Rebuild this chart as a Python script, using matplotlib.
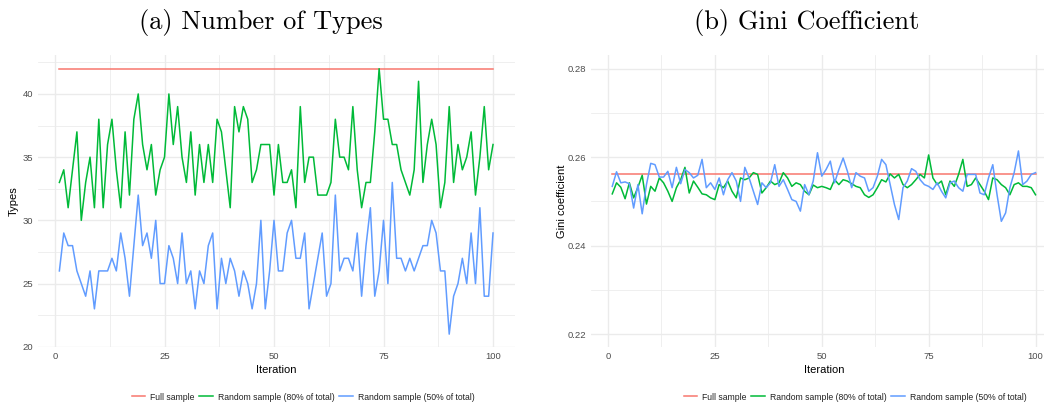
import matplotlib
matplotlib.use("Agg")
import matplotlib.pyplot as plt
from matplotlib.lines import Line2D
import numpy as np

iterations = list(range(1, 101))

types_full = [42] * 100
types_80 = [33, 34, 31, 34, 37, 30, 33, 35, 31, 38, 31, 36, 38, 34, 31, 37, 32, 38, 40, 36,
            34, 36, 32, 34, 35, 40, 36, 39, 35, 33, 37, 32, 36, 33, 36, 33, 38, 37, 34, 31,
            39, 37, 39, 38, 33, 34, 36, 36, 36, 32, 36, 33, 33, 34, 31, 39, 33, 35, 35, 32,
            32, 32, 33, 38, 35, 35, 34, 39, 34, 31, 33, 33, 37, 42, 38, 38, 36, 36, 34, 33,
            32, 34, 41, 33, 36, 38, 36, 31, 33, 39, 33, 36, 34, 35, 37, 32, 35, 39, 34, 36]
types_50 = [26, 29, 28, 28, 26, 25, 24, 26, 23, 26, 26, 26, 27, 26, 29, 27, 24, 28, 32, 28,
            29, 27, 30, 25, 25, 28, 27, 25, 29, 25, 26, 23, 26, 25, 28, 29, 23, 27, 25, 27,
            26, 24, 26, 25, 23, 25, 30, 23, 26, 30, 26, 26, 29, 30, 27, 27, 29, 23, 25, 27,
            29, 24, 25, 32, 26, 27, 27, 26, 29, 24, 28, 31, 24, 26, 30, 25, 33, 27, 27, 26,
            27, 26, 27, 28, 28, 30, 29, 26, 26, 21, 24, 25, 27, 25, 29, 25, 31, 24, 24, 29]

gini_full = [0.2563] * 100
gini_80 = [0.2517, 0.2542, 0.2532, 0.2506, 0.2542, 0.2508, 0.2532, 0.2559, 0.2494, 0.2534,
           0.2523, 0.2553, 0.2542, 0.2523, 0.2500, 0.2531, 0.2549, 0.2577, 0.2519, 0.2546,
           0.2532, 0.2517, 0.2515, 0.2508, 0.2504, 0.2538, 0.2531, 0.2546, 0.2523, 0.2508,
           0.2553, 0.2549, 0.2553, 0.2565, 0.2561, 0.2519, 0.2531, 0.2546, 0.2538, 0.2542,
           0.2565, 0.2553, 0.2534, 0.2542, 0.2538, 0.2523, 0.2515, 0.2537, 0.2531, 0.2534,
           0.2531, 0.2527, 0.2549, 0.2538, 0.2549, 0.2546, 0.2540, 0.2534, 0.2531, 0.2515,
           0.2509, 0.2515, 0.2531, 0.2549, 0.2544, 0.2562, 0.2553, 0.2561, 0.2538, 0.2531,
           0.2538, 0.2549, 0.2561, 0.2553, 0.2605, 0.2553, 0.2538, 0.2546, 0.2515, 0.2546,
           0.2534, 0.2561, 0.2595, 0.2534, 0.2538, 0.2553, 0.2538, 0.2523, 0.2504, 0.2553,
           0.2549, 0.2538, 0.2531, 0.2515, 0.2538, 0.2542, 0.2534, 0.2534, 0.2531, 0.2515]
gini_50 = [0.2534, 0.2567, 0.2542, 0.2544, 0.2540, 0.2485, 0.2538, 0.2472, 0.2538, 0.2586,
           0.2583, 0.2555, 0.2555, 0.2568, 0.2531, 0.2577, 0.2540, 0.2572, 0.2565, 0.2553,
           0.2559, 0.2595, 0.2531, 0.2542, 0.2527, 0.2553, 0.2515, 0.2549, 0.2565, 0.2546,
           0.2500, 0.2577, 0.2553, 0.2523, 0.2493, 0.2542, 0.2531, 0.2542, 0.2583, 0.2534,
           0.2549, 0.2527, 0.2504, 0.2500, 0.2478, 0.2538, 0.2515, 0.2546, 0.2610, 0.2557,
           0.2572, 0.2591, 0.2542, 0.2572, 0.2598, 0.2568, 0.2531, 0.2565, 0.2557, 0.2553,
           0.2523, 0.2531, 0.2557, 0.2595, 0.2583, 0.2538, 0.2493, 0.2459, 0.2531, 0.2546,
           0.2574, 0.2568, 0.2549, 0.2538, 0.2534, 0.2527, 0.2542, 0.2523, 0.2508, 0.2542,
           0.2546, 0.2531, 0.2523, 0.2561, 0.2561, 0.2561, 0.2519, 0.2515, 0.2553, 0.2583,
           0.2515, 0.2455, 0.2474, 0.2531, 0.2565, 0.2614, 0.2538, 0.2546, 0.2561, 0.2565]

series_labels = ["Full sample", "Random sample (80% of total)", "Random sample (50% of total)"]
colors = ["#F8766D", "#00BA38", "#619CFF"]

x_ticks = [0, 25, 50, 75, 100]
x_minor = [12.5, 37.5, 62.5, 87.5]
types_ticks = [20, 25, 30, 35, 40]
types_minor = [22.5, 27.5, 32.5, 37.5, 42.5]
gini_ticks = [0.22, 0.24, 0.26, 0.28]
gini_minor = [0.23, 0.25, 0.27]

W, H = 1044, 407
fig = plt.figure(figsize=(W / 100, H / 100), dpi=100)
plt.rcParams['font.family'] = ['Liberation Sans', 'DejaVu Sans']

tick_color = "#4D4D4D"
grid_color = "#EBEBEB"


def style_axes(ax, xt, xm, yt, ym, ylabels):
    for s in ax.spines.values():
        s.set_visible(False)
    for v in xt:
        ax.axvline(v, color=grid_color, lw=1.0, zorder=0)
    for v in xm:
        ax.axvline(v, color=grid_color, lw=0.55, zorder=0)
    for v in yt:
        ax.axhline(v, color=grid_color, lw=1.0, zorder=0)
    for v in ym:
        ax.axhline(v, color=grid_color, lw=0.55, zorder=0)
    ax.set_xticks(xt)
    ax.set_xticklabels([str(v) for v in xt])
    ax.set_yticks(yt)
    ax.set_yticklabels(ylabels)
    ax.tick_params(length=0, labelsize=6.8, labelcolor=tick_color, pad=3.5)
    ax.set_facecolor("white")


def px_axes(left, top, right, bottom):
    return fig.add_axes([left / W, 1 - bottom / H, (right - left) / W, (bottom - top) / H])


# Left panel
ax1 = px_axes(37.7, 55.4, 514.7, 347.4)
ax1.set_xlim(-3.95, 104.95)
ax1.set_ylim(19.95, 43.05)
style_axes(ax1, x_ticks, x_minor, types_ticks, types_minor, [str(v) for v in types_ticks])
for ys, c in zip([types_full, types_80, types_50], colors):
    ax1.plot(iterations, ys, color=c, lw=1.1, zorder=3)

# Right panel (extends past the right edge of the image, as in the reference)
ax2 = px_axes(591.1, 55.4, 1056.7, 347.4)
ax2.set_xlim(-3.95, 104.95)
ax2.set_ylim(0.217, 0.283)
style_axes(ax2, x_ticks, x_minor, gini_ticks, gini_minor, ["%.2f" % v for v in gini_ticks])
for ys, c in zip([gini_full, gini_80, gini_50], colors):
    ax2.plot(iterations, ys, color=c, lw=1.1, zorder=3)

# Axis titles
fig.text(276 / W, 1 - 370 / H, "Iteration", ha="center", va="center", fontsize=8)
fig.text(824 / W, 1 - 370 / H, "Iteration", ha="center", va="center", fontsize=8)
fig.text(14 / W, 1 - 201 / H, "Types", ha="center", va="center", rotation=90, fontsize=8)
fig.text(562 / W, 1 - 201 / H, "Gini coefficient", ha="center", va="center", rotation=90, fontsize=8)

# Titles
fig.text(261 / W, 1 - 22 / H, "(a) Number of Types", ha="center", va="center",
         fontsize=19, family="cmr10")
fig.text(807 / W, 1 - 22 / H, "(b) Gini Coefficient", ha="center", va="center",
         fontsize=19, family="cmr10")

# Legends
handles = [Line2D([0], [0], color=c, lw=1.1) for c in colors]
for cx in (303, 855):
    fig.legend(handles, series_labels, loc="center", bbox_to_anchor=(cx / W, 1 - 397 / H),
               ncol=3, frameon=False, fontsize=6.2, handlelength=1.6, handletextpad=0.5,
               columnspacing=0.6, labelcolor="#222222")

fig.savefig("out.png", dpi=100, facecolor="white")
